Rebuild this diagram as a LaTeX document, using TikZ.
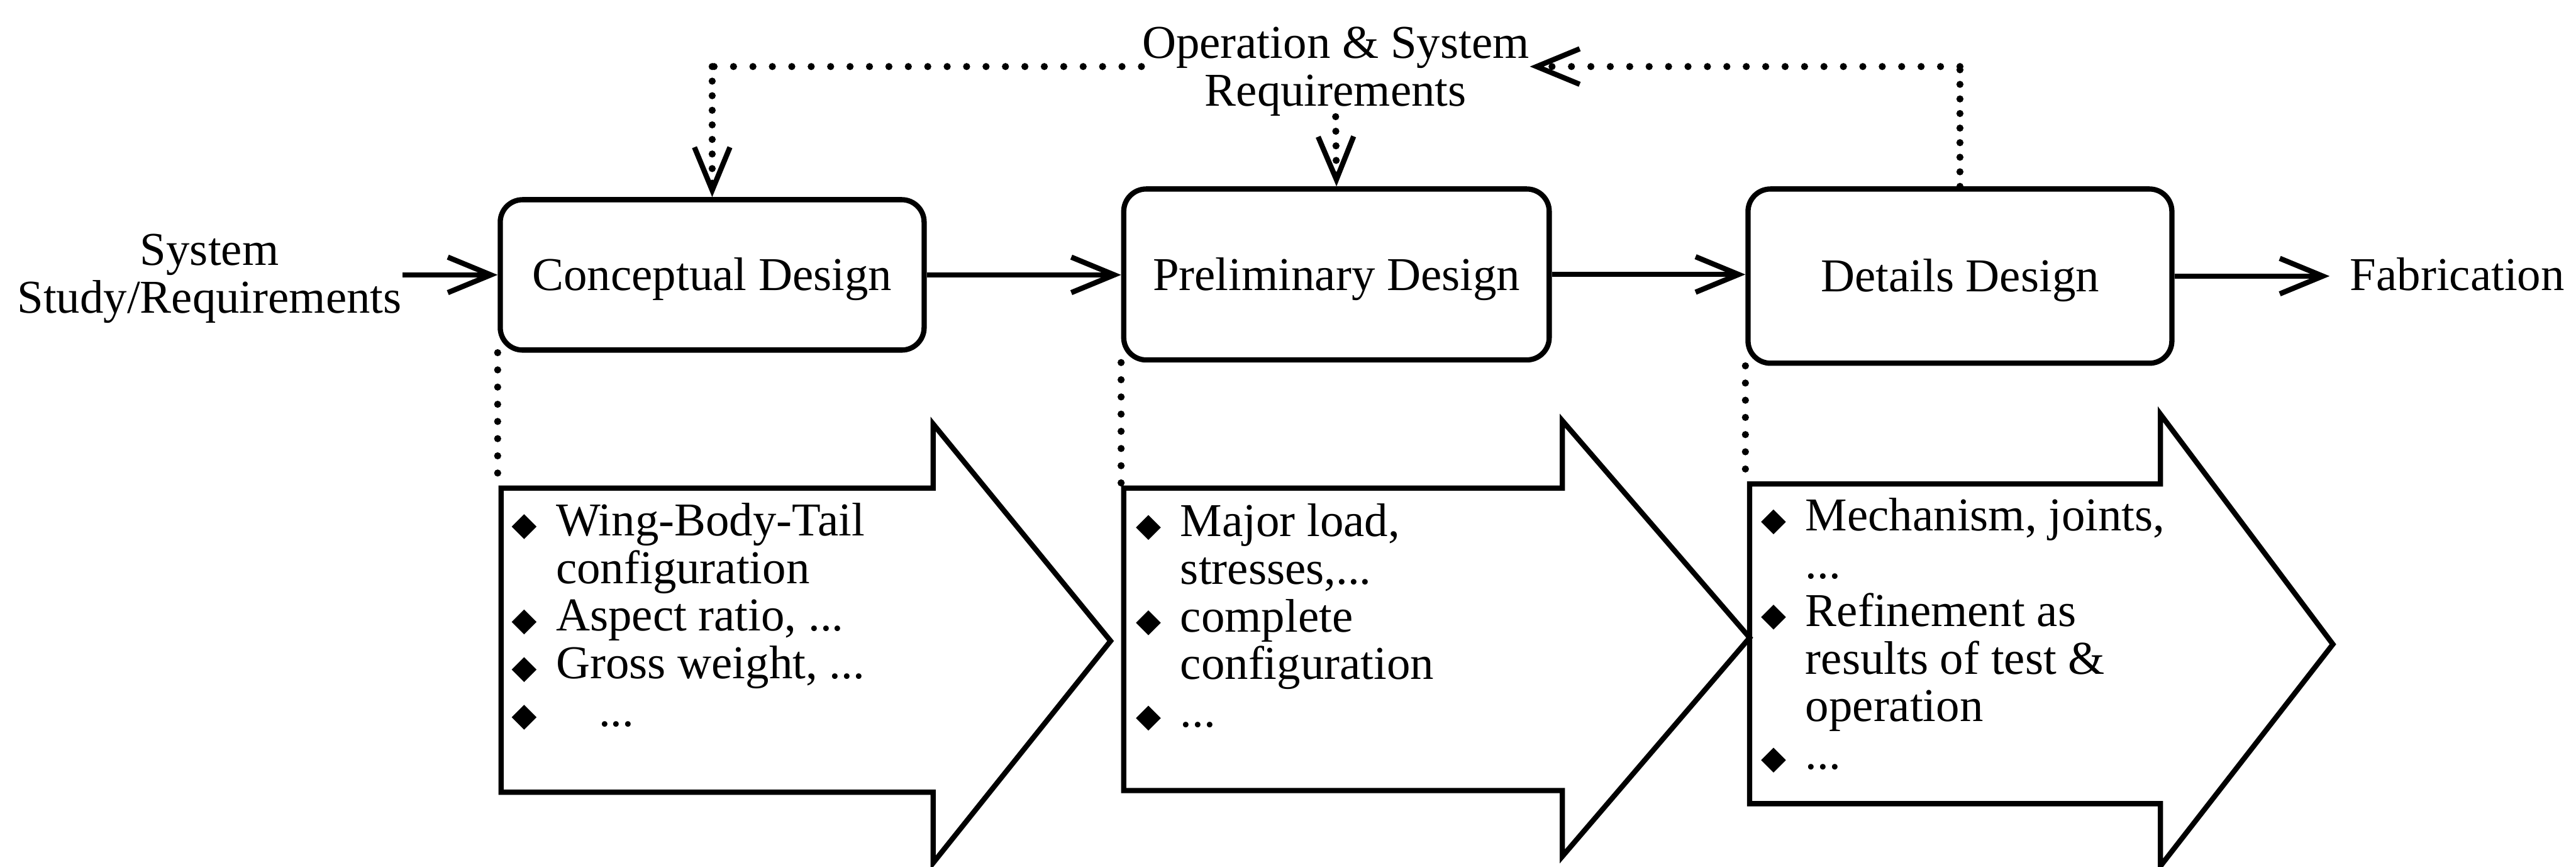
\documentclass[tikz,border=0pt]{standalone}
\usepackage{fontspec}
\setmainfont{Liberation Serif}
\usepackage{graphicx}
\usetikzlibrary{arrows.meta}

% list bullet (small filled diamond) and hanging indent
\newcommand{\itm}{\strut\makebox[11.9pt][l]{\raisebox{-0.9pt}{\rotatebox{45}{\rule{4.7pt}{4.7pt}}}}}
\newcommand{\ind}{\strut\hspace*{11.9pt}}

\begin{document}
\begin{tikzpicture}[x=0.01545cm, y=-0.01545cm,
  txt/.style={font=\fontsize{12.6pt}{12.75pt}\selectfont, inner sep=0pt},
  stage/.style={txt, draw, line width=1.4pt, rounded corners=6pt,
    minimum width=258*0.01545cm, text height=8.6pt, text depth=0.25pt},
  bigarrow/.style={draw, line width=1.4pt, line join=miter},
  conn/.style={line width=1.4pt, -{Straight Barb[length=11.5pt,width=9.5pt]}},
  dotsH/.style={line width=1.9pt, line cap=round, dash pattern=on 0pt off 5.2pt},
  dotsV/.style={line width=1.9pt, line cap=round, dash pattern=on 0pt off 3.9pt},
  dotsD/.style={line width=1.9pt, line cap=round, dash pattern=on 0pt off 4.6pt},
  dotarrow/.style={-{Straight Barb[length=11.5pt,width=9.5pt,line width=1.4pt]}},
  list/.style={txt, align=left, anchor=north west}
]
\useasboundingbox (0,0) rectangle (1568,527.5);

% design stages
\node[stage, minimum height=91.5*0.01545cm] (c1) at (433.5,167.25) {Conceptual Design};
\node[stage, minimum width=259*0.01545cm, minimum height=104*0.01545cm] (c2) at (813.5,167) {Preliminary Design};
\node[stage, minimum height=106*0.01545cm] (c3) at (1193,168) {Details Design};

% input, output and requirement labels
\node[txt, align=center, anchor=north] (sys) at (127.5,140.7) {\strut System\\Study/Requirements};
\node[txt, inner xsep=5.3pt, anchor=base west] (fab) at (1418,176.5) {Fabrication};
\node[txt, align=center, anchor=north] (ops) at (813,14.7) {\strut Operation \& System\\Requirements};

% main flow
\draw[conn] (sys.east |- c1.west) -- (c1.west);
\draw[conn] (c1.east) -- (c2.west |- c1.east);
\draw[conn] (c2.east) -- (c3.west |- c2.east);
\draw[conn] (c3.east) -- (fab.west |- c3.east);

% requirement feedback loop
\coordinate (fbL) at (433.5,40.5);
\coordinate (fbR) at (1193,40.5);
\draw[dotsH] (ops.west |- fbL) -- (fbL);
\draw[dotsV, dotarrow] (fbL) -- (c1.north);
\draw[dotsV, dotarrow] (ops.south) -- (c2.north);
\draw[dotsV] (c3.north) -- (fbR);
\draw[dotsH, dotarrow] (fbR) -- (ops.east |- fbR);

% block arrows with the activities of each stage
\draw[bigarrow] (305,297) coordinate (a1) -- (568,297) -- (568,258) -- (676,390)
  -- (568,525) -- (568,482) -- (305,482) -- cycle;
\draw[bigarrow] (684,297) coordinate (a2) -- (951,297) -- (951,256) -- (1065,388)
  -- (951,521) -- (951,481) -- (684,481) -- cycle;
\draw[bigarrow] (1065,294.5) coordinate (a3) -- (1315,294.5) -- (1315,252) -- (1420,392)
  -- (1315,527) -- (1315,489) -- (1065,489) -- cycle;

\draw[dotsD] (c1.south west) -- (c1.south west |- a1);
\draw[dotsD] (c2.south west) -- (c2.south west |- a2);
\draw[dotsD] (c3.south west) -- (c3.south west |- a3);

\node[list] (l1) at (311,305.2) {\itm Wing-Body-Tail\\
  \ind configuration\\
  \itm Aspect ratio, ...\\
  \itm Gross weight, ...\\
  \itm\hspace*{11.4pt}...};
\node[list] (l2) at (691,305.7) {\itm Major load,\\
  \ind stresses,...\\
  \itm complete\\
  \ind configuration\\
  \itm ...};
\node[list] (l3) at (1071.5,302.3) {\itm Mechanism, joints,\\
  \ind ...\\
  \itm Refinement as\\
  \ind results of test \&\\
  \ind operation\\
  \itm ...};
\end{tikzpicture}
\end{document}
